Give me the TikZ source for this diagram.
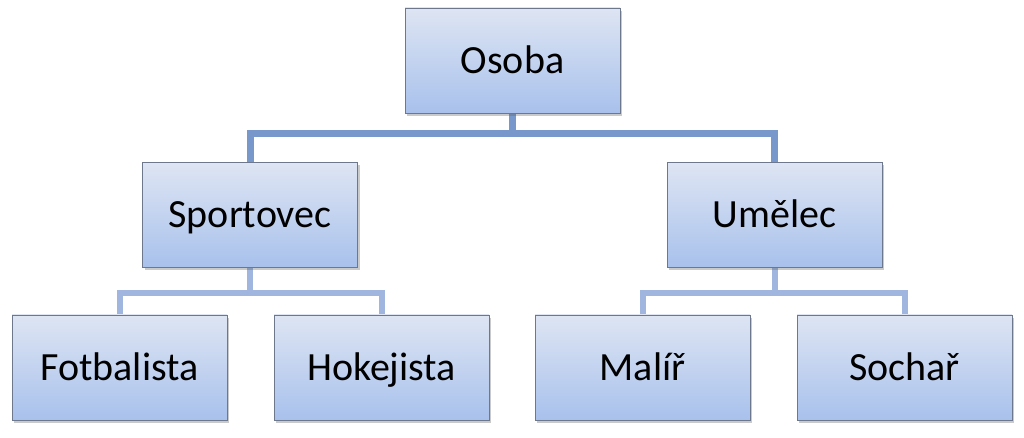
\documentclass[tikz,border=0pt]{standalone}
\usepackage{fontspec}
\setmainfont{Carlito}
\usetikzlibrary{shadows}
\definecolor{boxtop}{RGB}{222,229,243}
\definecolor{boxbot}{RGB}{168,193,236}
\definecolor{boxedge}{RGB}{110,120,140}
\definecolor{linkA}{RGB}{120,152,203}
\definecolor{linkB}{RGB}{160,182,222}
\tikzset{
  x=1pt, y=1pt,
  orgbox/.style={rectangle, draw=boxedge, line width=0.8pt, top color=boxtop, bottom color=boxbot,
    minimum width=215pt, minimum height=105pt, inner sep=0pt,
    text height=26pt, text depth=0pt,
    font=\fontsize{40}{46}\selectfont,
    drop shadow={shadow xshift=2pt, shadow yshift=-3pt, opacity=0.35, fill=black!60}},
  linkone/.style={draw=linkA, line width=7pt},
  linktwo/.style={draw=linkB, line width=6pt}
}
\pgfdeclarelayer{bg}
\pgfsetlayers{bg,main}
\begin{document}
\begin{tikzpicture}
\useasboundingbox (0,0) rectangle (1024,438);
\coordinate (hA) at (512,304);
\coordinate (hB) at (250,145);
\coordinate (hC) at (774.5,145);
\node[orgbox] (osoba) at (512.5,377.5) {Osoba};
\node[orgbox] (sport) at (250,223) {Sportovec};
\node[orgbox] (umel) at (774.5,223) {Umělec};
\node[orgbox] (fot) at (119.5,70.5) {Fotbalista};
\node[orgbox] (hok) at (381.5,70.5) {Hokejista};
\node[orgbox] (mal) at (642.5,70.5) {Malíř};
\node[orgbox] (soch) at (904.5,70.5) {Sochař};
\begin{pgfonlayer}{bg}
\draw[linkone] (osoba.south) |- (hA) -| (sport.north);
\draw[linkone] (hA) -| (umel.north);
\draw[linktwo] (sport.south) |- (hB) -| (fot.north);
\draw[linktwo] (hB) -| (hok.north);
\draw[linktwo] (umel.south) |- (hC) -| (mal.north);
\draw[linktwo] (hC) -| (soch.north);
\end{pgfonlayer}
\end{tikzpicture}
\end{document}
